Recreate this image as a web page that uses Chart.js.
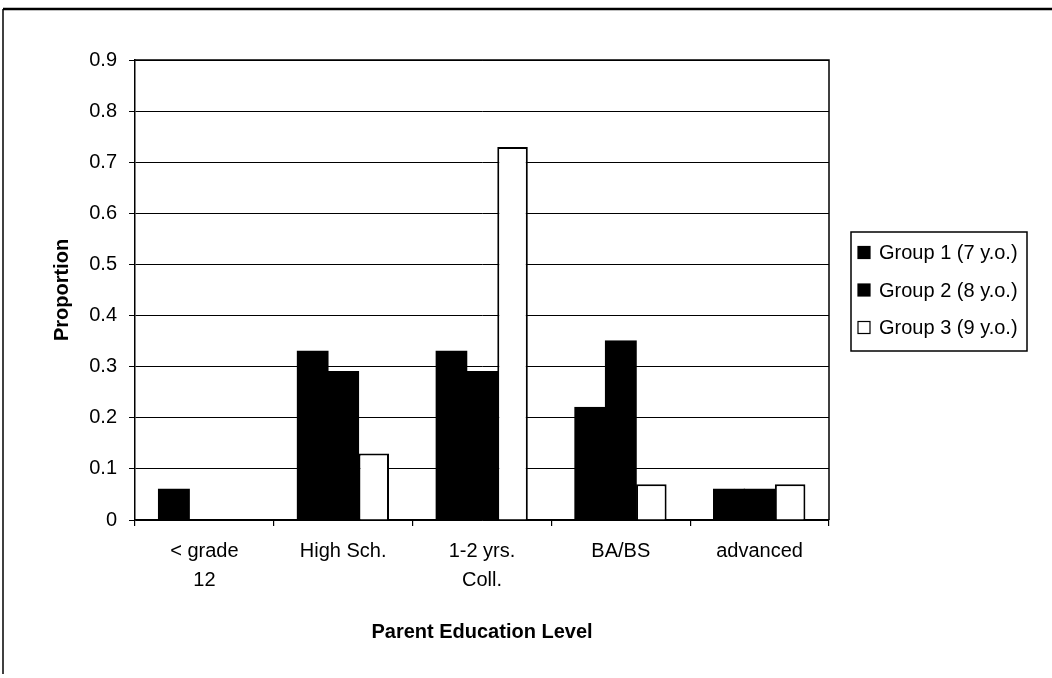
<!DOCTYPE html>
<html>
<head>
<meta charset="utf-8">
<script src="https://cdn.jsdelivr.net/npm/chart.js@4.4.1/dist/chart.umd.min.js"></script>
<style>
  html, body { margin: 0; padding: 0; background: #fff; }
  #wrap { position: relative; width: 1052px; height: 678px; }
</style>
</head>
<body>
<div id="wrap"><canvas id="chart" width="1052" height="678"></canvas></div>
<script>
// Proportion of children by parent education level, per age group
const categories = [['< grade', '12'], 'High Sch.', ['1-2 yrs.', 'Coll.'], 'BA/BS', 'advanced'];
const group1 = [0.06, 0.33, 0.33, 0.22, 0.06];
const group2 = [0, 0.29, 0.29, 0.35, 0.06];
const group3 = [0, 0.13, 0.73, 0.07, 0.07];
const seriesNames = ['Group 1 (7 y.o.)', 'Group 2 (8 y.o.)', 'Group 3 (9 y.o.)'];
const yTicks = [0, 0.1, 0.2, 0.3, 0.4, 0.5, 0.6, 0.7, 0.8, 0.9];
const yTickLabels = ['0', '0.1', '0.2', '0.3', '0.4', '0.5', '0.6', '0.7', '0.8', '0.9'];

const FONT = '"Liberation Sans", Arial, Helvetica, sans-serif';
Chart.defaults.font.family = FONT;
Chart.defaults.font.size = 20;
Chart.defaults.color = '#000';

// Page frame, plot-area outline and a boxed legend on the right
const decorations = {
  id: 'decorations',
  beforeDraw(chart) {
    const ctx = chart.ctx;
    ctx.save();
    ctx.fillStyle = '#fff';
    ctx.fillRect(0, 0, chart.width, chart.height);
    ctx.strokeStyle = '#000';
    ctx.lineWidth = 2.5;
    ctx.beginPath();
    ctx.moveTo(chart.width, 9);
    ctx.lineTo(3, 9);
    ctx.stroke();
    ctx.lineWidth = 1.5;
    ctx.beginPath();
    ctx.moveTo(3, 9);
    ctx.lineTo(3, 674);
    ctx.stroke();
    ctx.restore();
  },
  afterDraw(chart) {
    const ctx = chart.ctx;
    const area = chart.chartArea;
    ctx.save();
    ctx.strokeStyle = '#000';
    ctx.lineWidth = 1.5;
    ctx.beginPath();
    ctx.moveTo(area.left, area.top);
    ctx.lineTo(area.right, area.top);
    ctx.lineTo(area.right, area.bottom);
    ctx.stroke();

    // legend
    const boxLeft = area.right + 22;
    const boxRight = boxLeft + 176;
    const midY = (area.top + area.bottom) / 2;
    const rowGap = 37.5;
    const boxTop = midY - 58;
    const boxBottom = midY + 61;
    ctx.lineWidth = 1.5;
    ctx.strokeRect(boxLeft, boxTop, boxRight - boxLeft, boxBottom - boxTop);
    ctx.font = '20px ' + FONT;
    ctx.textBaseline = 'middle';
    ctx.textAlign = 'left';
    chart.data.datasets.forEach((ds, i) => {
      const cy = midY + (i - 1) * rowGap;
      const sx = boxLeft + 7;
      ctx.fillStyle = ds.backgroundColor;
      ctx.fillRect(sx, cy - 6, 12, 12);
      ctx.strokeStyle = ds.borderColor;
      ctx.lineWidth = 1.2;
      ctx.strokeRect(sx, cy - 6, 12, 12);
      ctx.fillStyle = '#000';
      ctx.fillText(ds.label, sx + 21, cy + 1);
    });
    ctx.restore();
  }
};

new Chart(document.getElementById('chart'), {
  type: 'bar',
  data: {
    labels: categories,
    datasets: [
      { label: seriesNames[0], data: group1, backgroundColor: '#000', borderColor: '#000', borderWidth: 1, inflateAmount: 0.8 },
      { label: seriesNames[1], data: group2, backgroundColor: '#000', borderColor: '#000', borderWidth: 1, inflateAmount: 0.8 },
      { label: seriesNames[2], data: group3, backgroundColor: '#fff', borderColor: '#000', borderWidth: 2 }
    ]
  },
  options: {
    responsive: false,
    animation: false,
    devicePixelRatio: 1,
    layout: { padding: { top: 60, left: 0, right: 223, bottom: 0 } },
    datasets: { bar: { categoryPercentage: 0.66, barPercentage: 1.0, borderSkipped: 'start' } },
    plugins: {
      legend: { display: false },
      tooltip: { enabled: false }
    },
    scales: {
      x: {
        grid: { display: true, drawOnChartArea: false, drawTicks: true, tickLength: 6, color: '#000', lineWidth: 1.2, offset: true },
        border: { display: true, color: '#000', width: 1.5 },
        ticks: { padding: 11, maxRotation: 0, autoSkip: false, font: { size: 20, lineHeight: 1.45 } },
        title: {
          display: true,
          text: 'Parent Education Level',
          font: { size: 20, weight: 'bold', lineHeight: 1.2 },
          padding: { top: 0, bottom: 34 }
        },
        afterFit(scale) { scale.height = 158; }
      },
      y: {
        min: 0,
        max: 0.9,
        grid: { color: '#000', lineWidth: 1, drawTicks: true, tickLength: 6 },
        border: { display: true, color: '#000', width: 1.5 },
        afterBuildTicks(scale) { scale.ticks = yTicks.map(v => ({ value: v })); },
        ticks: {
          padding: 12,
          font: { size: 20 },
          callback: (v) => yTickLabels[yTicks.findIndex(t => Math.abs(t - v) < 1e-9)]
        },
        title: {
          display: true,
          text: 'Proportion',
          font: { size: 20, weight: 'bold', lineHeight: 1.2 },
          padding: { top: 50, bottom: 0 }
        },
        afterFit(scale) { scale.width = 135; }
      }
    }
  },
  plugins: [decorations]
});
</script>
</body>
</html>
